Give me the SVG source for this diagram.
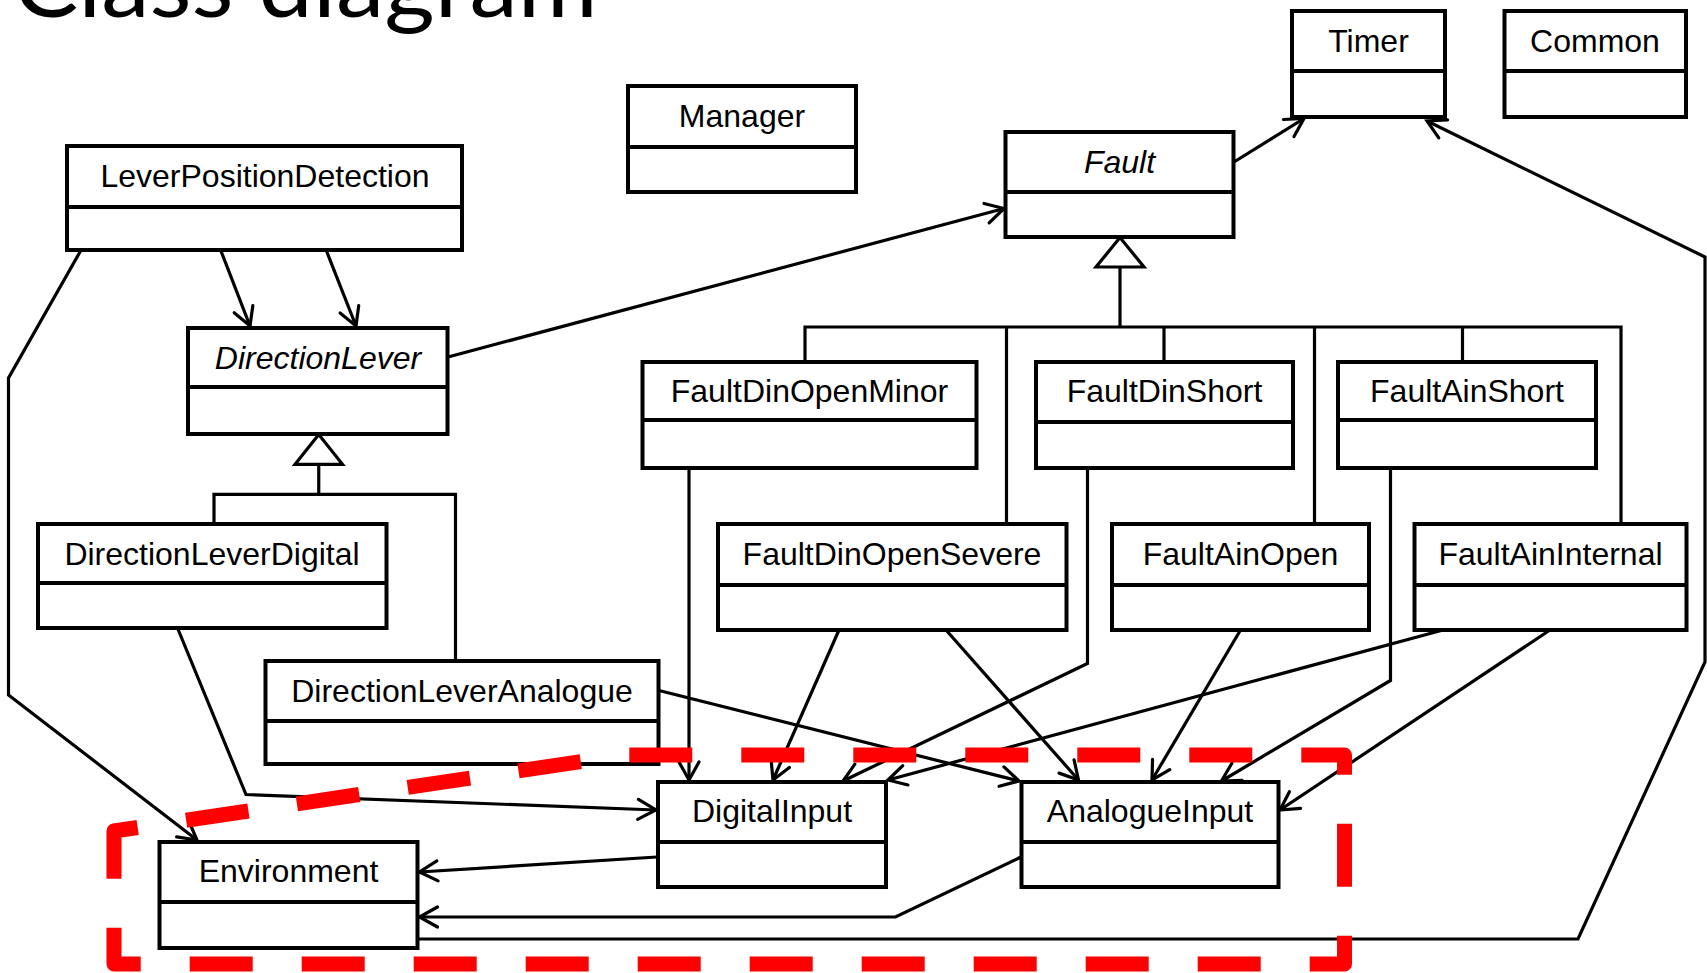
<svg xmlns="http://www.w3.org/2000/svg" width="1707" height="973" viewBox="0 0 1707 973">
<style>
.box{fill:#fff;stroke:#000;stroke-width:4}
.div{stroke:#000;stroke-width:4}
.t{font-family:"Liberation Sans",Arial,sans-serif;font-size:32px;text-anchor:middle;fill:#000}
.i{font-style:italic}
.c{fill:none;stroke:#000;stroke-width:3.2}
.a{marker-end:url(#arr)}
.gen{fill:#fff;stroke:#000;stroke-width:3.2;stroke-linejoin:miter}
.title{font-family:Lato,"Open Sans",sans-serif;font-size:92px;fill:#000}
</style>
<defs>
<marker id="arr" markerUnits="userSpaceOnUse" markerWidth="30" markerHeight="30" viewBox="-22 -15 30 30" refX="0" refY="0" orient="auto" overflow="visible">
<path d="M-18,-10 L0,0 L-18,10" fill="none" stroke="#000" stroke-width="3.2" stroke-linecap="round"/>
</marker>
</defs>
<rect width="1707" height="973" fill="#fff"/>
<text class="title" x="13.5" y="17" textLength="584" lengthAdjust="spacingAndGlyphs">Class diagram</text>

<g id="connectors">
<line class="c a" x1="221" y1="251" x2="250" y2="326"/>
<line class="c a" x1="326.5" y1="251" x2="356" y2="326"/>
<polyline class="c a" points="80.5,251 8.5,378 8.5,695 197,840"/>
<line class="c a" x1="448" y1="357" x2="1004" y2="208.5"/>
<line class="c a" x1="1234" y1="162" x2="1304" y2="118.5"/>
<polyline class="c a" points="417.5,939 1578,939 1705,662 1705,257 1427,121"/>
<polyline class="c" points="318.75,464.3 318.75,494.3"/>
<polyline class="c" points="214,524 214,494.3 455.5,494.3 455.5,661"/>
<polygon class="gen" points="318.75,434.5 295,464.3 342.5,464.3"/>
<polyline class="c" points="1120,267 1120,327"/>
<polyline class="c" points="805,362 805,327 1621,327 1621,524"/>
<line class="c" x1="1006.5" y1="327" x2="1006.5" y2="524"/>
<line class="c" x1="1164" y1="327" x2="1164" y2="362"/>
<line class="c" x1="1314.5" y1="327" x2="1314.5" y2="524"/>
<line class="c" x1="1462.5" y1="327" x2="1462.5" y2="362"/>
<polygon class="gen" points="1120,237.5 1096,267 1144,267"/>
<polyline class="c a" points="177.5,628 246,794.5 656,810"/>
<line class="c a" x1="659" y1="690.5" x2="1019" y2="781"/>
<line class="c a" x1="689" y1="468" x2="689" y2="780"/>
<line class="c a" x1="839" y1="630" x2="773" y2="780"/>
<line class="c a" x1="946" y1="630" x2="1078.5" y2="780"/>
<polyline class="c a" points="1087.5,468 1087.5,663.5 843,781"/>
<line class="c a" x1="1240.5" y1="630" x2="1152" y2="780"/>
<polyline class="c a" points="1390.5,468 1390.5,680.5 1221.5,781"/>
<line class="c a" x1="1443" y1="630" x2="888" y2="780"/>
<line class="c a" x1="1550" y1="630" x2="1280" y2="810"/>
<line class="c a" x1="657" y1="857" x2="419.5" y2="872"/>
<polyline class="c a" points="1021,857 895.5,917 419.5,917"/>
</g>

<g id="LeverPositionDetection"><rect class="box" x="67" y="146" width="395" height="104"/><line class="div" x1="67" y1="207" x2="462" y2="207"/><text class="t" x="265" y="187">LeverPositionDetection</text></g>
<g id="Manager"><rect class="box" x="628" y="86" width="228" height="106"/><line class="div" x1="628" y1="147" x2="856" y2="147"/><text class="t" x="742" y="127">Manager</text></g>
<g id="Timer"><rect class="box" x="1292" y="11" width="153" height="106"/><line class="div" x1="1292" y1="71" x2="1445" y2="71"/><text class="t" x="1368.5" y="52">Timer</text></g>
<g id="Common"><rect class="box" x="1504.5" y="11" width="181.5" height="106"/><line class="div" x1="1504.5" y1="71" x2="1686" y2="71"/><text class="t" x="1595" y="52">Common</text></g>
<g id="Fault"><rect class="box" x="1005.5" y="132" width="228" height="105"/><line class="div" x1="1005.5" y1="192" x2="1233.5" y2="192"/><text class="t i" x="1119.5" y="173">Fault</text></g>
<g id="DirectionLever"><rect class="box" x="188" y="328" width="259.5" height="106"/><line class="div" x1="188" y1="387" x2="447.5" y2="387"/><text class="t i" x="318" y="369">DirectionLever</text></g>
<g id="DirectionLeverDigital"><rect class="box" x="38" y="524" width="348.5" height="104"/><line class="div" x1="38" y1="583" x2="386.5" y2="583"/><text class="t" x="212" y="565">DirectionLeverDigital</text></g>
<g id="DirectionLeverAnalogue"><rect class="box" x="265.5" y="661" width="393" height="103"/><line class="div" x1="265.5" y1="721" x2="658.5" y2="721"/><text class="t" x="462" y="702">DirectionLeverAnalogue</text></g>
<g id="FaultDinOpenMinor"><rect class="box" x="642.5" y="362" width="334" height="106"/><line class="div" x1="642.5" y1="420" x2="976.5" y2="420"/><text class="t" x="809.5" y="402">FaultDinOpenMinor</text></g>
<g id="FaultDinShort"><rect class="box" x="1036" y="362" width="257" height="106"/><line class="div" x1="1036" y1="422" x2="1293" y2="422"/><text class="t" x="1164.5" y="402">FaultDinShort</text></g>
<g id="FaultAinShort"><rect class="box" x="1338" y="362" width="258" height="106"/><line class="div" x1="1338" y1="420" x2="1596" y2="420"/><text class="t" x="1467" y="402">FaultAinShort</text></g>
<g id="FaultDinOpenSevere"><rect class="box" x="718" y="524" width="348.5" height="106"/><line class="div" x1="718" y1="585" x2="1066.5" y2="585"/><text class="t" x="892" y="565">FaultDinOpenSevere</text></g>
<g id="FaultAinOpen"><rect class="box" x="1112" y="524" width="257" height="106"/><line class="div" x1="1112" y1="585" x2="1369" y2="585"/><text class="t" x="1240.5" y="565">FaultAinOpen</text></g>
<g id="FaultAinInternal"><rect class="box" x="1414.5" y="524" width="272" height="106"/><line class="div" x1="1414.5" y1="585" x2="1686.5" y2="585"/><text class="t" x="1550.5" y="565">FaultAinInternal</text></g>
<g id="DigitalInput"><rect class="box" x="658" y="782" width="228" height="105"/><line class="div" x1="658" y1="842" x2="886" y2="842"/><text class="t" x="772" y="822">DigitalInput</text></g>
<g id="AnalogueInput"><rect class="box" x="1021.5" y="782" width="257" height="105"/><line class="div" x1="1021.5" y1="842" x2="1278.5" y2="842"/><text class="t" x="1150" y="822">AnalogueInput</text></g>
<g id="Environment"><rect class="box" x="159.5" y="842" width="258" height="106"/><line class="div" x1="159.5" y1="902" x2="417.5" y2="902"/><text class="t" x="288.5" y="882">Environment</text></g>

<g id="boundary">
<path d="M114,831 L114,964 L1344.5,964 L1344.5,755 L625,755 Z" fill="none" stroke="#f00" stroke-width="15" stroke-dasharray="63 49" stroke-dashoffset="15.3" stroke-linejoin="round"/>
</g>
</svg>
